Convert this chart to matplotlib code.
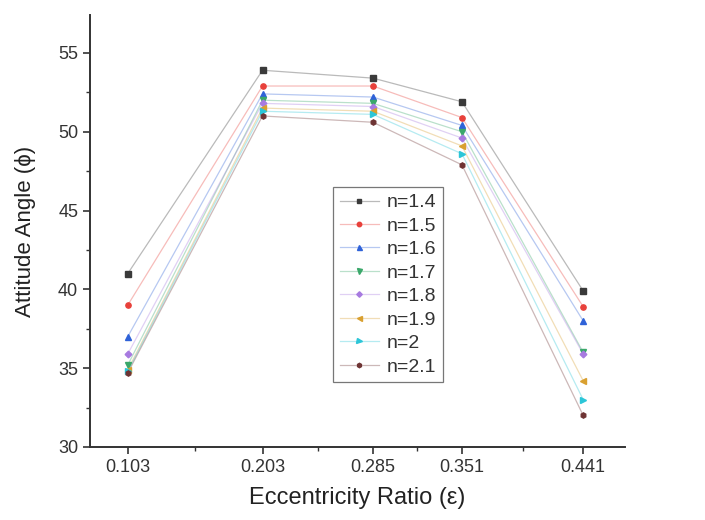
import matplotlib

matplotlib.use("Agg")
import matplotlib.pyplot as plt  # noqa: E402
from matplotlib.colors import to_rgba  # noqa: E402

plt.rcParams["font.family"] = ["Liberation Sans", "DejaVu Sans"]

ecc = [0.103, 0.203, 0.285, 0.351, 0.441]
ecc_labels = ["0.103", "0.203", "0.285", "0.351", "0.441"]
minor_x = [0.153, 0.244, 0.318, 0.396]

n_labels = ["n=1.4", "n=1.5", "n=1.6", "n=1.7", "n=1.8", "n=1.9", "n=2", "n=2.1"]
phi_14 = [41.0, 53.9, 53.4, 51.9, 39.9]
phi_15 = [39.0, 52.9, 52.9, 50.9, 38.9]
phi_16 = [37.0, 52.4, 52.2, 50.4, 38.0]
phi_17 = [35.2, 52.0, 51.8, 50.0, 36.0]
phi_18 = [35.9, 51.8, 51.6, 49.6, 35.9]
phi_19 = [34.9, 51.5, 51.3, 49.1, 34.2]
phi_20 = [34.8, 51.3, 51.1, 48.6, 33.0]
phi_21 = [34.7, 51.0, 50.6, 47.9, 32.0]
series = [phi_14, phi_15, phi_16, phi_17, phi_18, phi_19, phi_20, phi_21]

colors = ["#3a3a3a", "#e8403a", "#2f62d8", "#3aa86a", "#a77ae0", "#d9a030", "#2cc6d8", "#6e3434"]
markers = ["s", "o", "^", "v", "D", "<", ">", "h"]
msizes = [3.8, 3.8, 4.2, 4.2, 3.4, 4.2, 4.2, 3.8]

fig = plt.figure(figsize=(7.05, 5.2), dpi=100)
ax = fig.add_axes([0.1277, 0.1404, 0.7588, 0.8306])

for vals, lab, c, m, ms in zip(series, n_labels, colors, markers, msizes):
    faint = to_rgba(c, 0.35)
    ax.plot(ecc, vals, color=faint, lw=0.9, zorder=2)
    ax.plot(ecc, vals, ls="none", marker=m, ms=ms, color=c, mec=c, zorder=3)
    # legend proxy: faint line, solid marker
    ax.plot([], [], color=faint, lw=0.9, marker=m, ms=ms - 0.6,
            mfc=c, mec=c, label=lab)

ax.set_xlim(0.075, 0.472)
ax.set_ylim(30, 57.4)
ax.set_xticks(ecc)
ax.set_xticklabels(ecc_labels)
ax.set_xticks(minor_x, minor=True)
ax.set_yticks([30, 35, 40, 45, 50, 55])
ax.set_yticks([32.5, 37.5, 42.5, 47.5, 52.5], minor=True)

for side in ("top", "right"):
    ax.spines[side].set_visible(False)
for side in ("left", "bottom"):
    ax.spines[side].set_color("#333333")
    ax.spines[side].set_linewidth(1.4)

ax.tick_params(which="major", direction="out", length=5, width=1.2,
               color="#333333", labelsize=13, labelcolor="#333333")
ax.tick_params(which="minor", direction="out", length=3, width=1.0, color="#333333")

ax.set_xlabel("Eccentricity Ratio (ε)", fontsize=17, color="#222222", labelpad=8)
ax.set_ylabel("Attitude Angle (ϕ)", fontsize=16, color="#222222", labelpad=16)

leg = ax.legend(loc="upper left", bbox_to_anchor=(0.454, 0.602), fontsize=14,
                frameon=True, fancybox=False, edgecolor="#555555",
                handlelength=2.0, labelspacing=0.3, borderpad=0.35,
                handletextpad=0.4, borderaxespad=0)
leg.get_frame().set_linewidth(0.9)
for t in leg.get_texts():
    t.set_color("#333333")

fig.savefig("out.png", dpi=100)
plt.close(fig)
